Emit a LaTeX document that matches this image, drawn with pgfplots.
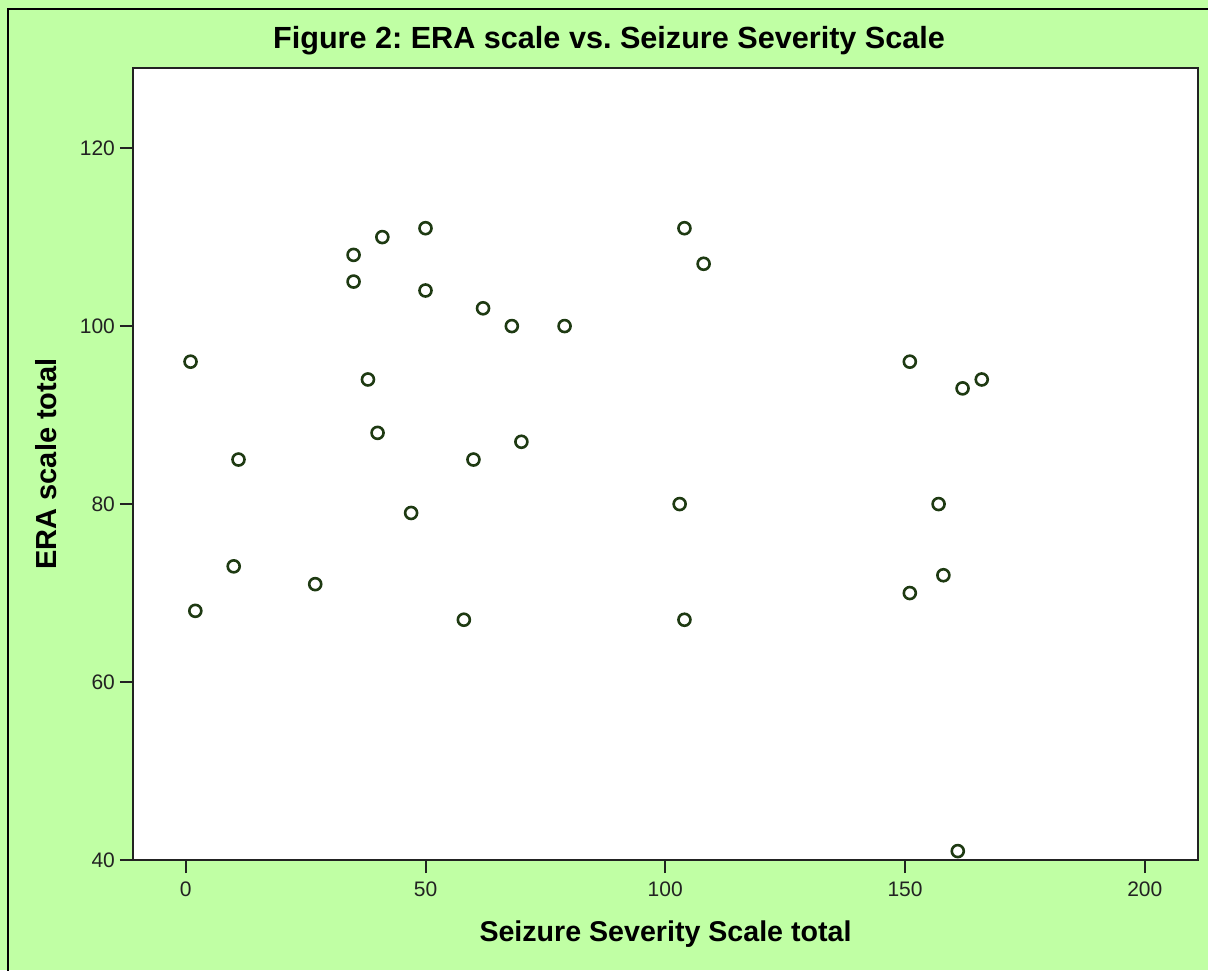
\documentclass[border=0pt]{standalone}
\usepackage{fontspec}
\setmainfont{Liberation Sans}
\usepackage{pgfplots}
\pgfplotsset{compat=1.18}
\frenchspacing

\definecolor{bggreen}{RGB}{192,255,164}
\definecolor{markgreen}{RGB}{30,58,18}
\definecolor{axisgray}{RGB}{34,34,34}

\begin{document}
\begin{tikzpicture}
% page = 1208x970 px at 0.5pt per px
\useasboundingbox (-66.5pt,-55pt) rectangle (537.5pt,430pt);
\fill[bggreen] (-66.5pt,-55pt) rectangle (537.5pt,430pt);
\draw[black, line width=1pt] (-62.5pt,-70pt) rectangle (560pt,425.5pt);

\begin{axis}[
    at={(0,0)}, anchor=south west,
    scale only axis,
    width=532.5pt, height=396pt,
    xmin=-11, xmax=211.1,
    ymin=40, ymax=129,
    xtick={0,50,100,150,200},
    ytick={40,60,80,100,120},
    tick pos=left,
    tick align=outside,
    major tick length=6.5pt,
    every tick/.style={axisgray, line width=1pt},
    axis line style={axisgray, line width=1pt},
    axis background/.style={fill=white},
    /pgf/number format/assume math mode=true,
    ticklabel style={font=\fontsize{10.5}{12}\selectfont, text=axisgray},
    xticklabel style={yshift=-1pt},
    yticklabel style={xshift=1pt},
    title={\textbf{Figure 2: ERA scale vs. Seizure Severity Scale}},
    title style={font=\fontsize{15.3}{18}\selectfont, at={(axis description cs:0.447,1)}, anchor=base, yshift=4pt},
    xlabel={\textbf{Seizure Severity Scale total}},
    xlabel style={font=\fontsize{14.3}{17}\selectfont, at={(axis description cs:0.5,-0.1023)}, anchor=base},
    ylabel={\textbf{ERA scale total}},
    ylabel style={font=\fontsize{14.5}{17}\selectfont, at={(axis description cs:-0.0817,0.5)}, anchor=center},
]
\addplot[
    only marks,
    mark=o,
    mark size=3pt,
    mark options={draw=markgreen, line width=1.3pt},
] coordinates {
    (1,96) (2,68) (10,73) (11,85) (27,71)
    (35,108) (35,105) (38,94) (40,88) (41,110)
    (47,79) (50,111) (50,104) (58,67) (60,85)
    (62,102) (68,100) (70,87) (79,100)
    (103,80) (104,111) (104,67) (108,107)
    (151,96) (151,70) (157,80) (158,72) (161,41)
    (162,93) (166,94)
};
\end{axis}
\end{tikzpicture}
\end{document}
